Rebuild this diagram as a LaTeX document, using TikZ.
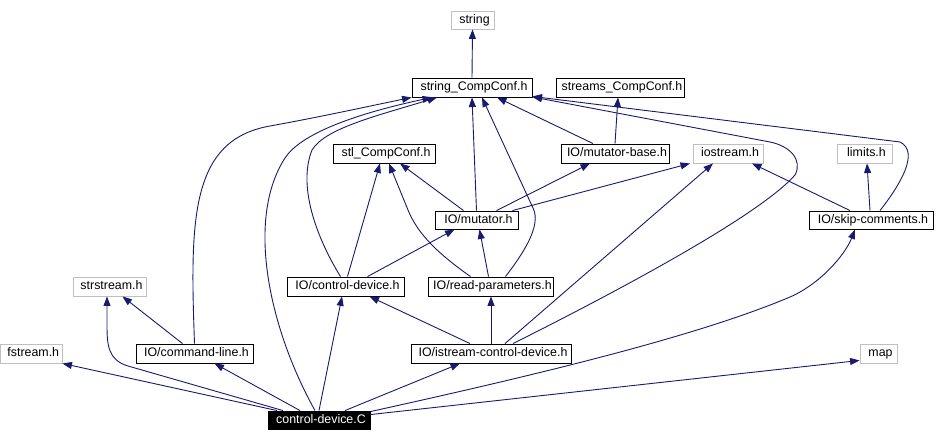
\documentclass[tikz,border=0pt]{standalone}
\usepackage{fontspec}
\setmainfont{Liberation Sans}
\usetikzlibrary{arrows.meta}
\definecolor{edgeblue}{HTML}{191970}
\definecolor{boxgray}{HTML}{BFBFBF}
\newcommand\lbl[1]{\makebox[0pt][c]{\hspace{4pt}#1}}
\begin{document}
\begin{tikzpicture}[x=1pt,y=-1pt,
  filebox/.style={rectangle, draw=black, line width=0.9pt, inner sep=0pt,
    text height=9pt, text depth=3pt, font=\fontsize{12.4}{14}\selectfont},
  extbox/.style={filebox, draw=boxgray},
  rootbox/.style={filebox, fill=black, text=white},
  dep/.style={draw=edgeblue, line width=0.9pt, -{Triangle[length=9.5pt,width=7pt]}}]
\path[use as bounding box] (0,0) rectangle (944,442);

% nodes
\node[extbox, minimum width=43pt, minimum height=18pt] (string) at (472.5,20) {\lbl{string}};
\node[filebox, minimum width=120pt, minimum height=19pt] (scc) at (472,87.5) {\lbl{string\_CompConf.h}};
\node[filebox, minimum width=128pt, minimum height=19pt] (streams) at (620,87.5) {\lbl{streams\_CompConf.h}};
\node[filebox, minimum width=102pt, minimum height=19pt] (stl) at (384,153.5) {\lbl{stl\_CompConf.h}};
\node[filebox, minimum width=108pt, minimum height=19pt] (mbase) at (615,153.5) {\lbl{IO/mutator-base.h}};
\node[extbox, minimum width=70pt, minimum height=19pt] (iostream) at (728,153.5) {\lbl{iostream.h}};
\node[extbox, minimum width=55pt, minimum height=19pt] (limits) at (864.5,153.5) {\lbl{limits.h}};
\node[filebox, minimum width=83pt, minimum height=18pt] (mutator) at (476.5,220) {\lbl{IO/mutator.h}};
\node[filebox, minimum width=124pt, minimum height=18pt] (skip) at (871,220) {\lbl{IO/skip-comments.h}};
\node[extbox, minimum width=73pt, minimum height=19pt] (strstream) at (109.5,286.5) {\lbl{strstream.h}};
\node[filebox, minimum width=117pt, minimum height=19pt] (cdev) at (345.5,286.5) {\lbl{IO/control-device.h}};
\node[filebox, minimum width=125pt, minimum height=19pt] (readp) at (490.5,286.5) {\lbl{IO/read-parameters.h}};
\node[extbox, minimum width=61.5pt, minimum height=19pt] (fstream) at (31.25,353.5) {\lbl{fstream.h}};
\node[filebox, minimum width=117pt, minimum height=19pt] (cline) at (194.5,353.5) {\lbl{IO/command-line.h}};
\node[filebox, minimum width=160pt, minimum height=19pt] (iscd) at (491,353.5) {\lbl{IO/istream-control-device.h}};
\node[extbox, minimum width=37pt, minimum height=19pt] (map) at (878.5,353.5) {\lbl{map}};
\node[rootbox, minimum width=102pt, minimum height=18pt] (cdC) at (319,420) {\lbl{control-device.C}};

% edges
\draw[dep] (scc.north) -- (string.south);
\draw[dep] (mbase.north) -- ([xshift=-2pt]streams.south);
\draw[dep] ([xshift=-22pt]mbase.north) -- ([xshift=25pt]scc.south);
\draw[dep] (cline.north) .. controls (190,220) and (190,140) .. (270,126)
  .. controls (320,117) and (370,106) .. (scc.south west);
\draw[dep] ([xshift=-4pt]cdC.north) .. controls (270,330) and (245,220) .. (285,158)
  .. controls (300,135) and (350,115) .. ([xshift=-40pt]scc.south);
\draw[dep] ([xshift=-5pt]cdev.north) .. controls (315,235) and (298,185) .. (312,150)
  .. controls (325,128) and (380,115) .. ([xshift=-35pt]scc.south);
\draw[dep] (mutator.north) -- (scc.south);
\draw[dep] ([xshift=15pt]readp.north) .. controls (522,255) and (542,226) .. (533,208)
  -- ([xshift=10pt]scc.south);
\draw[dep] ([xshift=9pt]skip.north) .. controls (900,185) and (920,152) .. (900,142)
  -- ([yshift=1pt]scc.south east);
\draw[dep] ([xshift=22pt]iscd.north) .. controls (620,290) and (760,215) .. (795,175)
  .. controls (803,160) and (790,146) .. (770,142) -- ([yshift=0.5pt]scc.south east);
\draw[dep] ([xshift=-20pt]readp.north) .. controls (440,255) and (418,235) .. (408,210)
  -- ([xshift=5pt]stl.south);
\draw[dep] ([xshift=-13pt]mutator.north) -- ([xshift=16pt]stl.south);
\draw[dep] ([xshift=2pt]cdev.north) -- ([xshift=-4pt]stl.south);
\draw[dep] ([xshift=22pt]cdev.north) -- ([xshift=-22pt]mutator.south);
\draw[dep] ([xshift=-2pt]readp.north) -- ([xshift=3pt]mutator.south);
\draw[dep] ([xshift=20pt]mutator.north) -- ([xshift=-25pt]mbase.south);
\draw[dep] ([xshift=36pt]mutator.north) -- ([xshift=-38pt]iostream.south);
\draw[dep] ([xshift=-21pt]skip.north) -- ([xshift=24pt]iostream.south);
\draw[dep] ([xshift=-1pt]skip.north) -- ([xshift=2.5pt]limits.south);
\draw[dep] ([xshift=14pt]iscd.north) -- ([xshift=-15pt]iostream.south);
\draw[dep] (iscd.north) -- ([xshift=0.5pt]readp.south);
\draw[dep] ([xshift=-21pt]iscd.north) -- ([xshift=24pt]cdev.south);
\draw[dep] ([xshift=-12pt]cline.north) -- ([xshift=13pt]strstream.south);
\draw[dep] ([xshift=-36pt]cdC.north) -- (128,366) .. controls (108,360) and (107,345) .. (107,325)
  -- ([xshift=-2.5pt]strstream.south);
\draw[dep] ([xshift=-42pt]cdC.north) -- (fstream.south east);
\draw[dep] ([xshift=-19pt]cdC.north) -- ([xshift=20pt]cline.south);
\draw[dep] (cdC.north) -- ([xshift=-3.5pt]cdev.south);
\draw[dep] ([xshift=26pt]cdC.north) -- ([xshift=-31pt]iscd.south);
\draw[dep] ([yshift=-1pt]cdC.north east) .. controls (550,372) and (700,335) .. (790,297)
  .. controls (820,284) and (845,255) .. ([xshift=-16pt]skip.south);
\draw[dep] ([yshift=-4pt]cdC.north east) -- ([yshift=3pt]map.south west);
\end{tikzpicture}
\end{document}
